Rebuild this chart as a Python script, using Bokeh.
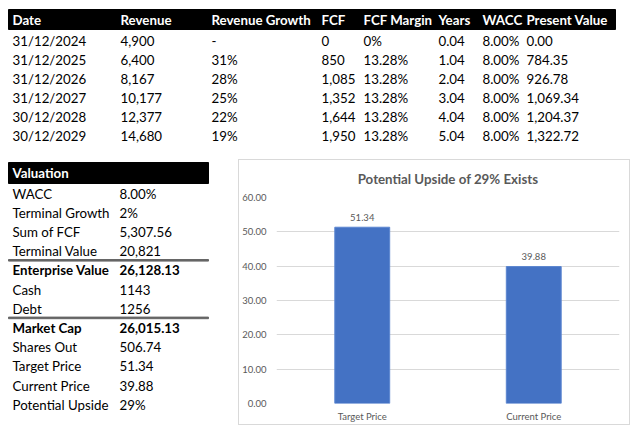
from bokeh.plotting import figure
from bokeh.models import Range1d, FactorRange, NumeralTickFormatter, FixedTicker
from bokeh.layouts import column, row
from bokeh.embed import file_html
from bokeh.resources import INLINE
from bokeh.core.properties import value

# ---------------- data ----------------
headers = ["Date", "Revenue", "Revenue Growth", "FCF", "FCF Margin", "Years", "WACC", "Present Value"]
dates = ["31/12/2024", "31/12/2025", "31/12/2026", "31/12/2027", "30/12/2028", "30/12/2029"]
revenue = [4900, 6400, 8167, 10177, 12377, 14680]
revenue_growth = ["-", "31%", "28%", "25%", "22%", "19%"]
fcf = [0, 850, 1085, 1352, 1644, 1950]
fcf_margin = ["0%", "13.28%", "13.28%", "13.28%", "13.28%", "13.28%"]
years = [0.04, 1.04, 2.04, 3.04, 4.04, 5.04]
wacc = [8.00, 8.00, 8.00, 8.00, 8.00, 8.00]
present_value = [0.00, 784.35, 926.78, 1069.34, 1204.37, 1322.72]

val_title = "Valuation"
val_labels = ["WACC", "Terminal Growth", "Sum of FCF", "Terminal Value", "Enterprise Value",
              "Cash", "Debt", "Market Cap", "Shares Out", "Target Price", "Current Price",
              "Potential Upside"]
val_values = ["8.00%", "2%", "5,307.56", "20,821", "26,128.13", "1143", "1256",
              "26,015.13", "506.74", "51.34", "39.88", "29%"]
val_bold = ["Enterprise Value", "Market Cap"]

chart_title = "Potential Upside of 29% Exists"
price_categories = ["Target Price", "Current Price"]
price_values = [51.34, 39.88]
price_ticks = [0, 10, 20, 30, 40, 50, 60]

# ---------------- styling / layout ----------------
FONT = value("Lato")
FS = "13.3px"
GRAY = "#595959"
COMMON = dict(output_backend="svg", toolbar_location=None)

# ---- projection table (page pixel coordinates) ----
top = figure(width=640, height=159, x_range=Range1d(0, 640), y_range=Range1d(159, 0),
             x_axis_type=None, y_axis_type=None, min_border=0, frame_align=False, **COMMON)
top.grid.visible = False
top.outline_line_color = None

col_x = [12, 120, 211, 321, 363, 438, 482, 526]
head_y = 19.5
row_y0, row_h = 40, 19

top.quad(left=[8], right=[615], top=[9], bottom=[29], color="black")
top.text(x=col_x, y=[head_y] * len(headers), text=headers, text_color="white",
         text_font=FONT, text_font_size=FS, text_font_style="bold",
         text_baseline="middle")

columns_txt = [
    dates,
    [f"{v:,}" for v in revenue],
    revenue_growth,
    [f"{v:,}" for v in fcf],
    fcf_margin,
    [f"{v:.2f}" for v in years],
    [f"{v:.2f}%" for v in wacc],
    [f"{v:,.2f}" for v in present_value],
]
ys = [row_y0 + row_h * i for i in range(len(dates))]
for cx, txt in zip(col_x, columns_txt):
    top.text(x=[cx] * len(txt), y=ys, text=txt, text_color="black",
             text_font=FONT, text_font_size=FS, text_baseline="middle")

# ---- valuation table (page pixel coordinates) ----
left = figure(width=238, height=278, x_range=Range1d(0, 238), y_range=Range1d(437, 159),
              x_axis_type=None, y_axis_type=None, min_border=0, frame_align=False, **COMMON)
left.grid.visible = False
left.outline_line_color = None

left.quad(left=[8], right=[208], top=[162], bottom=[183], color="black")
left.text(x=[12], y=[172.5], text=[val_title], text_color="white", text_font=FONT,
          text_font_size=FS, text_font_style="bold", text_baseline="middle")
vy0, vh = 193, 19.2
for i, (lab, val) in enumerate(zip(val_labels, val_values)):
    style = "bold" if lab in val_bold else "normal"
    y = vy0 + vh * i
    left.text(x=[12, 119], y=[y, y], text=[lab, val], text_color="black", text_font=FONT,
              text_font_size=FS, text_font_style=style, text_baseline="middle")
    if lab in val_bold:
        left.quad(left=[8], right=[208], top=[y - vh / 2 - 1.2], bottom=[y - vh / 2 + 0.4],
                  color="#666666")

# ---- bar chart ----
chart = figure(width=392, height=266,
               x_range=FactorRange(*price_categories, range_padding=0),
               y_range=Range1d(0, 60), min_border_left=34, min_border_right=12,
               min_border_top=37, min_border_bottom=23, frame_align=False,
               styles={"border": "1px solid #d9d9d9"}, **COMMON)
chart.outline_line_color = None
chart.title.text = chart_title
chart.title.align = "center"
chart.title.vertical_align = "top"
chart.title.text_font = "Lato"
chart.title.text_font_size = "13.3px"
chart.title.text_color = GRAY
chart.title.text_font_style = "bold"
chart.title.standoff = 17
chart.title.offset = -12

chart.vbar(x=price_categories, top=price_values, width=0.32, fill_color="#4472c4",
           line_color="#5b85d0")
chart.text(x=price_categories, y=price_values, text=[f"{v:.2f}" for v in price_values],
           text_align="center", text_baseline="middle", y_offset=-10,
           text_font=FONT, text_font_size="9.5px", text_color=GRAY)

chart.xgrid.visible = False
chart.ygrid.grid_line_color = "#d9d9d9"
chart.yaxis.ticker = FixedTicker(ticks=price_ticks)
chart.yaxis.formatter = NumeralTickFormatter(format="0.00")
for ax in (chart.xaxis[0], chart.yaxis[0]):
    ax.axis_line_color = None
    ax.major_tick_line_color = None
    ax.minor_tick_line_color = None
    ax.major_tick_out = 0
    ax.major_tick_in = 0
    ax.major_label_text_font = "Lato"
    ax.major_label_text_font_size = "9.5px"
    ax.major_label_text_color = GRAY
chart.yaxis.major_label_standoff = 10
chart.xaxis.major_label_standoff = 7

layout = column(top, row(left, chart))
open("out.html", "w").write(file_html(layout, INLINE))
